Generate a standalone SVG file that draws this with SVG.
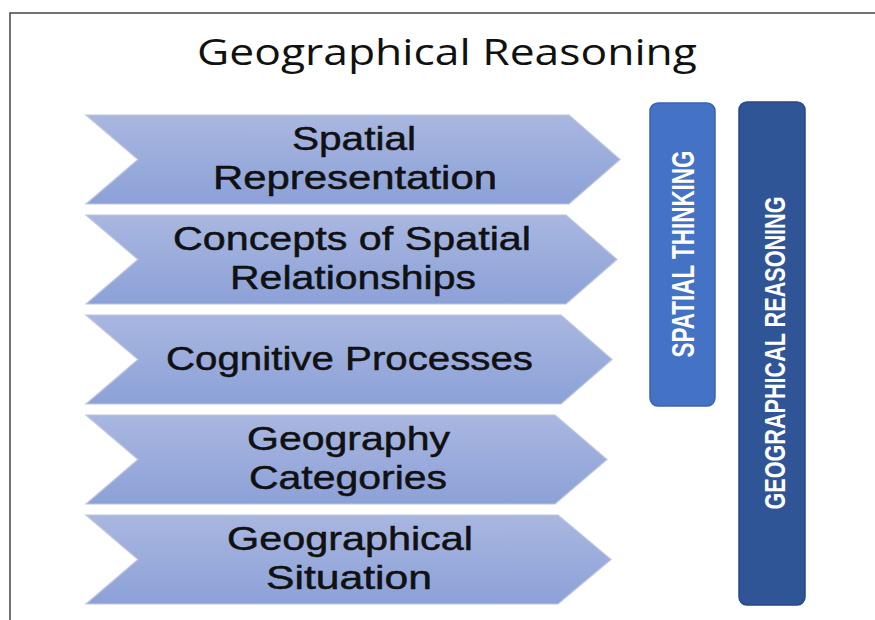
<svg xmlns="http://www.w3.org/2000/svg" width="875" height="620" viewBox="0 0 875 620">
<defs>
<linearGradient id="chev" x1="0" y1="0" x2="0" y2="1">
<stop offset="0" stop-color="#a9b7e0"/>
<stop offset="1" stop-color="#8ca1d8"/>
</linearGradient>
<style>
.chev{fill:url(#chev);stroke:#bcc5dc;stroke-width:1.2}
.lbl{font-family:"Liberation Sans","Open Sans",sans-serif;font-size:34px;fill:#111;stroke:#111;stroke-width:0.5;text-anchor:middle}
.title{font-family:"Open Sans","Liberation Sans",sans-serif;font-size:37px;fill:#111;text-anchor:middle}
.vt{font-family:"Liberation Sans","DejaVu Sans",sans-serif;font-weight:bold;fill:#fff;text-anchor:middle}
</style>
</defs>
<rect width="875" height="620" fill="#fff"/>
<g id="frame" fill="none" stroke="#444" stroke-width="1.5">
<path d="M10,620 V13 H875"/>
</g>
<text class="title" x="447" y="65" textLength="500" lengthAdjust="spacingAndGlyphs">Geographical Reasoning</text>
<g id="node1">
<polygon class="chev" points="86,115 569,115 620,159.5 569,204 86,204 138,159.5"/>
<text class="lbl" x="354" y="150" textLength="124" lengthAdjust="spacingAndGlyphs">Spatial</text>
<text class="lbl" x="355" y="189" textLength="284" lengthAdjust="spacingAndGlyphs">Representation</text>
</g>
<g id="node2">
<polygon class="chev" points="86,215 566,215 617,259.5 566,304 86,304 138,259.5"/>
<text class="lbl" x="352" y="250" textLength="358" lengthAdjust="spacingAndGlyphs">Concepts of Spatial</text>
<text class="lbl" x="353" y="289" textLength="246" lengthAdjust="spacingAndGlyphs">Relationships</text>
</g>
<g id="node3">
<polygon class="chev" points="86,315 561,315 612,359.5 561,404 86,404 138,359.5"/>
<text class="lbl" x="349.5" y="370" textLength="367" lengthAdjust="spacingAndGlyphs">Cognitive Processes</text>
</g>
<g id="node4">
<polygon class="chev" points="86,415 555,415 607,459.5 555,504 86,504 138,459.5"/>
<text class="lbl" x="348.5" y="450" textLength="203" lengthAdjust="spacingAndGlyphs">Geography</text>
<text class="lbl" x="348" y="489" textLength="198" lengthAdjust="spacingAndGlyphs">Categories</text>
</g>
<g id="node5">
<polygon class="chev" points="86,515 558,515 611,559.5 558,604 86,604 138,559.5"/>
<text class="lbl" x="350" y="550" textLength="246" lengthAdjust="spacingAndGlyphs">Geographical</text>
<text class="lbl" x="349" y="589" textLength="166" lengthAdjust="spacingAndGlyphs">Situation</text>
</g>
<g id="spatial-thinking">
<rect x="650" y="103" width="65" height="303" rx="8" fill="#4472c4" stroke="#3a64ad" stroke-width="1.5"/>
<text class="vt" transform="translate(694,254) rotate(-90)" font-size="31" textLength="207" lengthAdjust="spacingAndGlyphs">SPATIAL THINKING</text>
</g>
<g id="geographical-reasoning">
<rect x="739" y="102" width="66" height="503" rx="8" fill="#2f5597" stroke="#264a84" stroke-width="1.5"/>
<text class="vt" transform="translate(785,353) rotate(-90)" font-size="30" textLength="313" lengthAdjust="spacingAndGlyphs">GEOGRAPHICAL REASONING</text>
</g>
<g id="connectors"></g>
</svg>
